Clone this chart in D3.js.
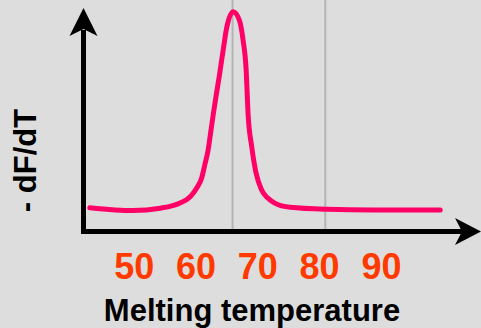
<!DOCTYPE html>
<html>
<head>
<meta charset="utf-8">
<script src="https://cdn.jsdelivr.net/npm/d3@7"></script>
<style>
  html, body { margin: 0; padding: 0; background: #dddddd; }
  svg { display: block; font-family: "Liberation Sans", Arial, sans-serif; }
</style>
</head>
<body>
<div id="chart"></div>
<script>
// melt curve
var temps = [42.9, 49.9, 54.3, 57.5, 59.1, 60.2, 61.0, 61.5, 62.04, 62.44, 62.9, 63.35, 63.87, 64.47, 65.06, 66.1,
             67.1, 67.7, 68.2, 68.5, 69.1, 69.8, 70.7, 71.7, 72.9, 75.3, 81.2, 88.7, 99.6];
var dfdt  = [10.6, 9.3, 10.4, 12.8, 15.5, 19.6, 24.2, 30.1, 36.9, 44.6, 53.7, 61.9, 71.0, 82.4, 92.9, 100,
             96.1, 87.0, 73.3, 53.7, 38.4, 26.4, 18.7, 15.0, 12.6, 10.8, 9.9, 9.6, 9.6];
var tickValues = [50, 60, 70, 80, 90];
var markerTemps = [66, 81];

var width = 481, height = 328;

var svg = d3.select('#chart')
	.append('svg')
		.attr('width', width)
		.attr('height', height);

var x = d3.scaleLinear().domain([50, 90]).range([133.7, 380.9]);
var y = d3.scaleLinear().domain([0, 100]).range([231, 11.7]);

var axisX = 83.5, axisY = 231.5;

// grey guide lines
svg.selectAll('line.guide')
	.data(markerTemps)
	.enter().append('line')
		.attr('class', 'guide')
		.attr('x1', d => x(d))
		.attr('x2', d => x(d))
		.attr('y1', 0)
		.attr('y2', axisY)
		.attr('stroke', '#b4b4b4')
		.attr('stroke-width', 2);

// the curve
var line = d3.line()
	.x((d, i) => x(temps[i]))
	.y(d => y(d))
	.curve(d3.curveMonotoneX);

svg.append('path')
	.datum(dfdt)
	.attr('d', line)
	.attr('fill', 'none')
	.attr('stroke', '#ff0066')
	.attr('stroke-width', 5)
	.attr('stroke-linecap', 'round')
	.attr('stroke-linejoin', 'round');

// axes with arrow heads
svg.append('line')
	.attr('x1', axisX).attr('x2', axisX)
	.attr('y1', axisY + 2.5).attr('y2', 30)
	.attr('stroke', '#000').attr('stroke-width', 5);
svg.append('path')
	.attr('d', 'M' + axisX + ',8 L' + (axisX + 14) + ',36 L' + axisX + ',29 L' + (axisX - 14) + ',36 Z')
	.attr('fill', '#000');

svg.append('line')
	.attr('x1', axisX - 2.5).attr('x2', 463)
	.attr('y1', axisY).attr('y2', axisY)
	.attr('stroke', '#000').attr('stroke-width', 5);
svg.append('path')
	.attr('d', 'M481,' + axisY + ' L455,' + (axisY - 13.5) + ' L462,' + axisY + ' L455,' + (axisY + 13.5) + ' Z')
	.attr('fill', '#000');

// tick labels
svg.append('g')
	.attr('transform', 'translate(0,' + axisY + ')')
	.call(d3.axisBottom(x).tickValues(tickValues).tickSize(0))
	.call(g => g.select('.domain').remove())
	.call(g => g.selectAll('text')
		.attr('y', 47.5)
		.attr('dy', null)
		.attr('fill', '#ff3a00')
		.attr('font-size', 36)
		.attr('font-weight', 'bold')
		.attr('font-family', '"Liberation Sans", Arial, sans-serif'));

// titles
svg.append('text')
	.attr('x', 252)
	.attr('y', 320.5)
	.attr('text-anchor', 'middle')
	.attr('font-size', 31)
	.attr('font-weight', 'bold')
	.text('Melting temperature');

svg.append('text')
	.attr('transform', 'translate(36,160.5) rotate(-90)')
	.attr('text-anchor', 'middle')
	.attr('font-size', 31)
	.attr('font-weight', 'bold')
	.text('- dF/dT');
</script>
</body>
</html>
